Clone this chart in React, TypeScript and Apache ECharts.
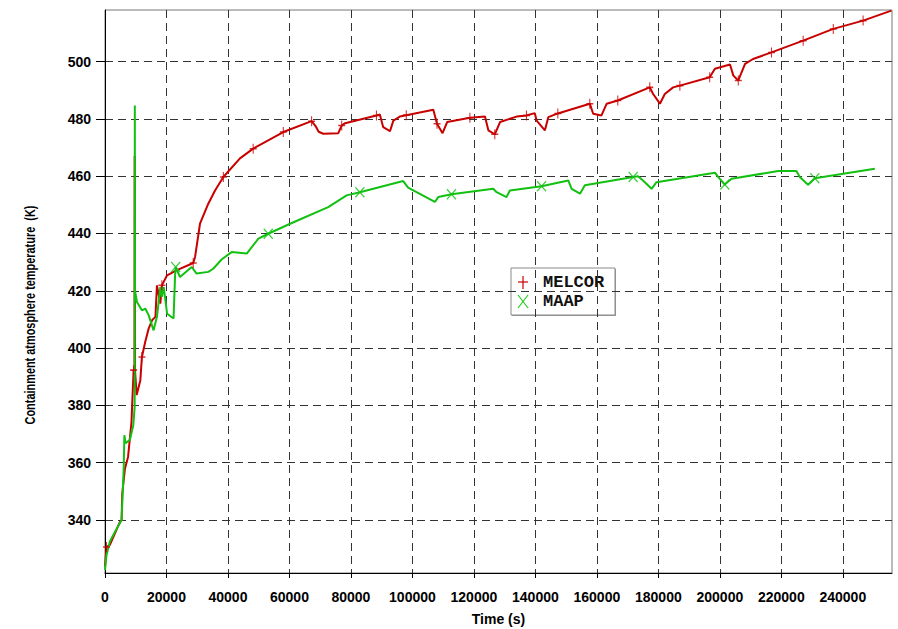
import React, { useEffect, useRef } from "react";
import * as echarts from "echarts";

// MELCOR containment atmosphere temperature, time (s) / temperature (K)
const melcorTime = [
  0, 500, 1600, 4900, 5400, 5600, 6500, 7500, 8600, 9300, 9600, 9650, 9720, 9780,
  10300, 11500, 12000, 13100, 14200, 15300, 16400, 16900, 18000, 18500, 20200,
  23400, 28700, 29300, 30900, 33600, 35800, 38500, 43900, 48200, 58000, 67200,
  68500, 69500, 71000, 75900, 77000, 78100, 88300, 89400, 90500, 92700, 93800,
  95900, 98000, 106800, 108000, 109800, 111300, 118700, 123600, 124700, 126800,
  128500, 133900, 137100, 139800, 140400, 143100, 144200, 147300, 157700, 158800,
  161500, 163200, 166800, 177200, 178300, 180500, 182100, 184800, 187000, 196700,
  198400, 203300, 204400, 206000, 208200, 210800, 216800, 227100, 236900, 246600,
  255800,
];
const melcorTemp = [
  323.7, 330.6, 331.3, 339.4, 340, 349, 358, 362, 374, 392.3, 393, 467, 466, 392,
  383.6, 388.8, 396.9, 402.2, 406.8, 409.7, 410.9, 421.9, 415.5, 421.9, 425.4,
  427.2, 429.7, 431.8, 443.4, 450.4, 455, 459.7, 466.2, 469.6, 475.4, 479.2,
  477.5, 475.5, 474.8, 475, 477.7, 478.5, 481.2, 481.5, 477.1, 475.7, 479.4,
  480.8, 481.3, 483.2, 478.3, 475, 478.9, 480.4, 480.8, 476, 474.6,
  478.9, 480.8, 481.2, 482, 479.4, 476, 480.6, 481.9, 485.3, 481.8,
  481.2, 485.3, 486.4, 491, 488.7, 485.3, 488.7, 491, 491.6, 494.5,
  497.5, 499, 495.1, 493.4, 499.2, 500.9, 503.2, 507.3, 511.4, 514.3,
  517.8,
];
// samples that carry the MELCOR "+" marker
const melcorMarkTimes = [
  500, 9300, 12000, 18500, 28700, 38500, 48200, 58000, 67200, 77000, 88300, 98000,
  108000, 118700, 126800, 137100, 147300, 157700, 166800, 177200, 187000, 196700,
  206000, 216800, 227100, 236900, 246600,
];

// MAAP containment atmosphere temperature, time (s) / temperature (K)
const maapTime = [
  0, 500, 1600, 3300, 5400, 5800, 6100, 6300, 6700, 8100, 9200, 9650, 9700, 9760,
  10400, 12000, 13100, 14200, 15800, 16900, 18000, 18500, 19100, 20200, 22300,
  22800, 23000, 24400, 28200, 29800, 33600, 35200, 38000, 41200, 46100, 49900,
  53100, 60200, 72600, 78600, 82900, 97000, 98600, 107300, 108400, 112700,
  126300, 127400, 130600, 131700, 142000, 150700, 151800, 154500, 156100, 171800,
  173400, 175000, 177800, 179400, 198400, 199500, 201600, 203800, 219000, 224900,
  226000, 228700, 230900, 250400,
];
const maapTemp = [
  322.6, 327.8, 332.5, 336, 340, 350.5, 358.6, 369.6, 366.8, 368, 373.1, 379.5, 484.7, 420,
  416.1, 413.2, 413.8, 411.5, 406.2, 410.9, 421.3, 417.9, 421.3, 412, 410.3,
  425.4, 428.3, 424.8, 428.3, 426, 426.6, 427.7, 431, 433.5, 433, 438.2,
  439.9, 443.4, 449.2, 453.3, 454.4, 458.3, 456, 451, 452.7, 453.7,
  455.6, 454.4, 452.7, 455, 456.5, 458.5, 455.6, 453.9, 456.8, 459.7,
  460, 458.5, 455.6, 457.9, 461.2, 459.7, 457.1, 459.1, 461.8, 461.8,
  459.7, 457, 459.3, 462.6,
];
// samples that carry the MAAP "X" marker
const maapMarkTimes = [23000, 53100, 82900, 112700, 142000, 171800, 201600, 230900];

const xTicks = [0, 20000, 40000, 60000, 80000, 100000, 120000, 140000, 160000, 180000, 200000, 220000, 240000];
const yTicks = [340, 360, 380, 400, 420, 440, 460, 480, 500];

const RED = "#c80000";
const GREEN = "#12c012";
const NARROW = '"Liberation Sans Narrow", "Arial Narrow", "Liberation Sans", Arial, sans-serif';
const MONO = '"Liberation Mono", "Courier New", monospace';

const pairs = (t: number[], v: number[]) => t.map((x, i) => [x, v[i]]);
const marked = (t: number[], v: number[], marks: number[]) =>
  t.map((x, i) => [x, v[i]]).filter((p) => marks.includes(p[0]));

export default function App() {
  const ref = useRef<HTMLDivElement>(null);

  useEffect(() => {
    if (!ref.current) return;
    const chart = echarts.init(ref.current, undefined, { renderer: "svg" });

    const tickLabel = {
      fontFamily: NARROW,
      fontWeight: "bold" as const,
      fontSize: 14,
      color: "#000",
    };
    const gridDash = { type: [8, 5], color: "#333", width: 1 };

    chart.setOption({
      animation: false,
      backgroundColor: "#fff",
      grid: {
        left: 105,
        right: 6,
        top: 10,
        bottom: 56,
        outerBoundsMode: "none",
        containLabel: false,
        show: true,
        borderColor: "#777",
        borderWidth: 1,
      },
      xAxis: {
        type: "value",
        min: 0,
        max: 256000,
        name: "Time (s)",
        nameLocation: "middle",
        nameGap: 39,
        nameTextStyle: { ...tickLabel, fontSize: 14 },
        axisLine: { show: true, onZero: false, lineStyle: { color: "#000", width: 1 } },
        axisTick: { show: true, length: 5, customValues: xTicks, lineStyle: { color: "#000" } },
        axisLabel: {
          ...tickLabel,
          customValues: xTicks,
          margin: 17,
          formatter: (v: number) => String(v),
        },
        splitLine: { show: true, lineStyle: gridDash },
      },
      yAxis: {
        type: "value",
        min: 321.5,
        max: 518,
        axisLine: { show: true, onZero: false, lineStyle: { color: "#000", width: 1 } },
        axisTick: { show: true, length: 9, customValues: yTicks, lineStyle: { color: "#000" } },
        axisLabel: {
          ...tickLabel,
          customValues: yTicks,
          margin: 14,
          formatter: (v: number) => String(v),
        },
        splitLine: { show: true, lineStyle: gridDash },
      },
      series: [
        {
          name: "MELCOR",
          type: "line",
          data: pairs(melcorTime, melcorTemp),
          showSymbol: false,
          symbol: "none",
          lineStyle: { color: RED, width: 2 },
          silent: true,
          z: 3,
        },
        {
          name: "MELCOR marks",
          type: "scatter",
          data: marked(melcorTime, melcorTemp, melcorMarkTimes),
          symbol: "path://M5,0L5,10M0,5L10,5",
          symbolSize: [7, 10],
          itemStyle: { color: "transparent", borderColor: RED, borderWidth: 1.3 },
          silent: true,
          z: 4,
        },
        {
          name: "MAAP",
          type: "line",
          data: pairs(maapTime, maapTemp),
          showSymbol: false,
          symbol: "none",
          lineStyle: { color: GREEN, width: 2 },
          silent: true,
          z: 3,
        },
        {
          name: "MAAP marks",
          type: "scatter",
          data: marked(maapTime, maapTemp, maapMarkTimes),
          symbol: "path://M0,0L10,10M10,0L0,10",
          symbolSize: [9, 10],
          itemStyle: { color: "transparent", borderColor: GREEN, borderWidth: 1.3 },
          silent: true,
          z: 4,
        },
      ],
      graphic: [
        {
          type: "text",
          x: 30,
          y: 315,
          rotation: Math.PI / 2,
          scaleX: 0.78,
          scaleY: 1.05,
          style: {
            text: "Containment atmosphere temperature  (K)",
            fontFamily: NARROW,
            fontWeight: "bold",
            fontSize: 14,
            fill: "#000",
            align: "center",
            verticalAlign: "middle",
          },
        },
        {
          type: "group",
          z: 100,
          children: [
            { type: "rect", shape: { x: 512, y: 269, width: 104, height: 47 }, style: { fill: "#999" } },
            {
              type: "rect",
              shape: { x: 511, y: 268, width: 104, height: 47 },
              style: { fill: "#fff", stroke: "#8a8a8a", lineWidth: 1 },
            },
            { type: "line", shape: { x1: 518, y1: 282, x2: 528, y2: 282 }, style: { stroke: RED, lineWidth: 1.2 } },
            { type: "line", shape: { x1: 523, y1: 276, x2: 523, y2: 289 }, style: { stroke: RED, lineWidth: 1.2 } },
            { type: "line", shape: { x1: 518, y1: 295, x2: 528, y2: 308 }, style: { stroke: "#22cc22", lineWidth: 1.2 } },
            { type: "line", shape: { x1: 528, y1: 295, x2: 518, y2: 308 }, style: { stroke: "#22cc22", lineWidth: 1.2 } },
            {
              type: "text",
              x: 543,
              y: 282,
              style: { text: "MELCOR", fontFamily: MONO, fontWeight: "bold", fontSize: 17, fill: "#111", verticalAlign: "middle" },
            },
            {
              type: "text",
              x: 543,
              y: 301,
              style: { text: "MAAP", fontFamily: MONO, fontWeight: "bold", fontSize: 17, fill: "#111", verticalAlign: "middle" },
            },
          ],
        },
      ],
    });

    return () => chart.dispose();
  }, []);

  return (
    <div
      ref={ref}
      style={{ position: "fixed", left: 0, top: 0, width: 898, height: 629, background: "#fff" }}
    />
  );
}
